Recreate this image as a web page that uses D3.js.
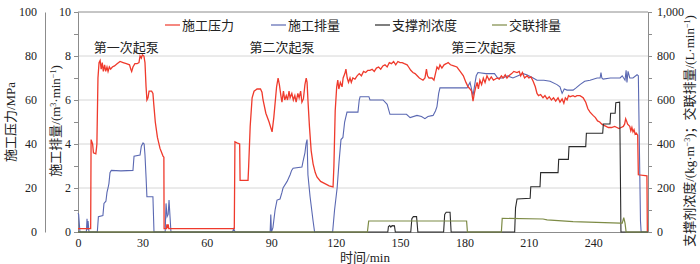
<!DOCTYPE html>
<html><head><meta charset="utf-8">
<script src="https://cdn.jsdelivr.net/npm/d3@7/dist/d3.min.js"></script>
<style>
html,body{margin:0;padding:0;background:#fff;}
svg{display:block;}
</style></head>
<body>
<svg id="chart" width="700" height="264"></svg>
<script>
// ---------- data ----------
const xTicks = [0, 30, 60, 90, 120, 150, 180, 210, 240];
const pressureTicks = [0, 20, 40, 60, 80, 100];
const rateTicks = [0, 2, 4, 6, 8, 10];
const rightTicks = [0, 200, 400, 600, 800, 1000];
const seriesNames = ["施工压力", "施工排量", "支撑剂浓度", "交联排量"];
const stageLabels = ["第一次起泵", "第二次起泵", "第三次起泵"];
const stageTimes = [22.5, 95, 189];

// 施工压力 (MPa) : [time(min), value]
const pressure = [
[0,1.5],[5.9,1.5],[6.1,42],[6.8,40],[7.2,36],[8.3,35.5],[8.6,38],[8.8,40],[9.3,70],[9.8,77],[10.3,78],[10.8,74],[11.3,77],[11.8,73],[12.4,76],[12.9,73],[13.5,75],[14,73],[14.6,75],[15.2,74],[16,75],[17,75.5],[18.2,76.5],[19.6,77.5],[21,77],[22.5,76.5],[24,76],[24.6,74],[25,73],[25.6,75],[26.5,76.5],[27.5,76.5],[28.4,77],[28.9,80],[29.5,79],[30,80.5],[30.7,80],[31.2,77],[31.7,66],[32.1,60],[32.6,61],[33.1,64],[34.3,64],[34.9,63],[35.3,58],[36,50],[37,43],[38.2,38],[39.6,34.5],[40,34],[40.1,1.5],[41.2,1.5],[41.4,3.5],[41.7,1.8],[42,3.5],[42.3,1.5],
[72.8,1.5],[73.1,41],[74,40.5],[75.3,40],[75.5,23.5],[79.2,23.5],[79.5,30],[80.2,48],[81.1,61],[82,64],[83.4,65],[85,65],[85.7,63.5],[86.2,60],[87.5,54],[89,50],[90.4,45.5],[91.2,52],[92.5,66],[93.2,70],[93.8,67],[94.5,62],[95,59],[95.7,64],[96.3,60],[97,62],[97.6,60],[98.3,64],[98.8,61],[99.6,63],[100.3,60],[101,62],[101.6,59],[102.4,63],[103,61],[103.7,64],[104.3,59],[105,60.5],[105.7,67],[106.3,70],[106.7,68],[107.1,60],[107.8,48],[108.6,37],[109.5,31],[110.5,27],[111.3,25],[113,23],[115,22],[117,21],[118.8,20.5],[119.2,30],[119.8,55],[120.5,66],[121,69],[121.5,65],[122.2,68],[123,66],[123.5,70],[124.3,72],[124.8,74],[125.4,70],[126,68],[126.7,70],[127.3,68],[128,70],[129,69.5],[130,71],[131,72],[132,71],[133,73],[134,72.5],[135,73.5],[136,73.5],[137,74],[138,73],[139,74.5],[140,75],[141,74],[142,75.5],[143,76],[144,75],[145,77],[146,76.5],[147,77.5],[148,76],[149,77.5],[150,77],[151,77],[152,76.5],[153.3,76],[154,75],[155,73.5],[156,72.5],[157,72],[158,71],[159,70],[160.7,69],[161.6,70],[162.3,74],[162.8,71],[163.5,70],[164.9,70],[165.8,69],[166.5,72],[167.2,75],[168,74],[168.6,76],[169.5,74.5],[170.5,76],[171.5,76.5],[172.4,77],[173.5,76],[175,75.5],[176.5,75],[178,73],[179.5,71],[180.7,68],[181.7,66],[182.6,65],[183.3,64],[184,59.5],[184.6,63],[185.3,66],[185.9,68],[186.5,65],[187.2,69],[188,67],[188.8,70],[189.6,68],[190.5,71],[191.5,69],[192.5,70.5],[193.5,69],[195.2,70],[196.2,69.5],[197.2,71],[198,70],[199,71.5],[199.8,70],[200.7,71],[202,72],[203,73],[204.5,72.5],[205.5,73],[206.2,71],[207,72.5],[208,70],[209.2,71],[210,70],[211,70.5],[212,68.5],[213,66],[213.8,63],[214.5,62],[215.5,62.5],[216.6,61],[217.5,62],[218.5,60.5],[219.5,61.5],[220.5,60],[221.5,61],[222.5,59.5],[223.6,61],[224.5,59],[225.5,60.5],[226.3,58.5],[227,61],[227.8,60],[228.5,62],[229.2,61.5],[230.6,62],[231.5,61.5],[232.4,62],[233.8,62],[235.3,61],[236.5,59],[237.5,56],[238.5,54.5],[239.9,53],[241,52],[242,50.5],[243,50],[244,49],[245,48.5],[246,48],[247,47.5],[248.5,47.5],[250,48],[251,47.5],[252,47],[253,47.5],[254,48],[254.6,49],[255.1,51.5],[255.5,50.5],[256,49],[257,48],[257.5,46],[258,47.5],[258.5,45.5],[259,46.5],[259.5,44.5],[260,45],[260.7,44],[261,26],[265,25.5],[265.2,0]
];

// 施工排量 (m3/min)
const rate = [
[0,0.85],[0.3,0.8],[0.9,0],[3.9,0],[4.2,0.6],[4.5,0.1],[4.7,0.5],[5.1,0],[9,0],[9.5,0.7],[11.6,0.75],[12.1,1.3],[13,1.4],[13.5,1.8],[14,2],[14.4,2.2],[14.9,2.7],[15.5,2.8],[20,2.78],[25.6,2.8],[26.1,3.45],[28.9,3.5],[29.5,3.9],[30.3,4.05],[30.8,4],[31.2,3.5],[31.7,2.5],[32.1,1.6],[34.9,1.6],[35.4,0],[40.6,0],[41,1.3],[41.5,0.7],[42,0.8],[42.4,1.45],[43.3,0],[72,0],[72.5,0.15],[73.2,0],[89.5,0],[89.8,0.8],[90.1,0],[90.8,0.2],[91.8,1],[92.7,1.45],[94.1,1.5],[95,1.8],[95.5,2],[97.4,2.3],[98.8,2.6],[99.5,2.8],[100.2,2.9],[104.3,2.95],[104.8,3.2],[105.7,3.6],[106.2,4],[106.7,4.2],[107.1,2.6],[108.1,1.6],[109.5,0.5],[110.2,0],[118.6,0],[119.5,1],[120.7,2],[121.6,3.2],[122.5,4.2],[123.4,4.3],[124.2,5],[125.3,5.45],[130.4,5.45],[131,6],[131.4,6.15],[135.5,6.15],[136,6],[142.1,6],[144,5.8],[145.3,5.35],[153,5.35],[154.7,5.2],[157.9,5.3],[160,5.25],[161.6,5.15],[163,5.25],[165.4,5.3],[166.5,5.5],[167.2,5.7],[168,6.3],[168.6,6.55],[175,6.55],[181.2,6.55],[182.6,6.8],[183.3,6.5],[184,6.2],[184.8,6.7],[185.5,7.1],[186.3,7.25],[190,7.2],[194,7.2],[195.5,7],[198,7],[200,7.1],[202.6,7],[205,7.1],[207.3,7.2],[209,7.15],[212,7],[213.8,6.9],[217,6.9],[219.9,6.85],[223.1,6.7],[224.5,6.6],[225.5,6.3],[226.5,6.5],[227.8,6.45],[230.6,6.45],[232,6.55],[233.8,6.7],[236,6.85],[238.5,6.9],[241.8,7],[243.2,7],[243.6,7.25],[244,7],[244.6,6.95],[248,7],[251.1,7],[252.5,7],[253.5,7.1],[254.8,6.9],[255.3,7.35],[255.7,6.8],[256.2,7.3],[257,7],[258.5,7],[260.4,7.15],[261,7.1],[262,0.5],[262.3,0],[265.5,0]
];

// 支撑剂浓度 (kg/m3)
const proppant = [
[0,0],[144.3,0],[144.6,25],[145.2,29],[145.7,22],[146.3,29],[147.4,28],[147.8,0],[155,0],[155.5,60],[156.2,70],[157.7,70],[158.3,0],[170.3,0],[170.8,80],[171.5,90],[173.3,90],[173.8,0],[203.4,0],[203.8,110],[204.5,150],[210.6,153],[210.9,206],[215.2,206],[215.5,270],[223.6,270],[223.9,330],[228.4,330],[228.7,388],[236.5,388],[236.8,449],[244.4,449],[244.7,491],[247.8,491],[248.1,540],[250.2,540],[250.5,588],[252.3,590],[252.6,300],[252.9,0],[265.5,0]
];

// 交联排量 (L/min)
const crosslink = [
[0,0],[134.8,0],[135.4,50],[181,50],[181.4,0],[197.2,0],[197.6,62],[216.6,59],[218.5,55],[230.6,47],[252.5,40],[253.5,40],[254.2,65],[254.8,40],[255.3,0],[265.5,0]
];

// ---------- drawing ----------
const FONT = '"Liberation Serif", "Times New Roman", "Noto Sans CJK SC", serif';
const svg = d3.select("#chart");
const L = 78, R = 648, T = 12, B = 232;
const x = d3.scaleLinear().domain([0, 265.5]).range([L, R]);
const yP = d3.scaleLinear().domain([0, 100]).range([B, T]);
const yQ = d3.scaleLinear().domain([0, 10]).range([B, T]);
const yR = d3.scaleLinear().domain([0, 1000]).range([B, T]);

const axisColor = "#8c8c8c";

// gridlines
svg.append("g").selectAll("line").data(rateTicks.filter(d => d > 0 && d < 10)).join("line")
  .attr("x1", L).attr("x2", R).attr("y1", d => yQ(d)).attr("y2", d => yQ(d))
  .attr("stroke", "#d6d6d6").attr("stroke-width", 1);
// frame top
svg.append("line").attr("x1", L).attr("x2", R).attr("y1", T).attr("y2", T).attr("stroke", axisColor);

function styleAxis(g) {
  g.attr("font-family", FONT).attr("font-size", 12);
  g.selectAll(".domain").attr("stroke", axisColor);
  g.selectAll(".tick line").attr("stroke", axisColor);
  g.selectAll("text").attr("font-size", 12).attr("fill", "#222").attr("font-family", FONT);
}

// pressure axis (far left)
svg.append("g").attr("transform", "translate(45,0)")
  .call(d3.axisLeft(yP).tickValues(pressureTicks).tickSize(0).tickPadding(8).tickSizeOuter(0))
  .call(styleAxis);

// rate axis
const minorQ = [1, 3, 5, 7, 9];
svg.append("g").attr("transform", `translate(${L},0)`)
  .call(d3.axisLeft(yQ).tickValues(minorQ).tickSize(4).tickFormat("").tickSizeOuter(0))
  .call(styleAxis);
svg.append("g").attr("transform", `translate(${L},0)`)
  .call(d3.axisLeft(yQ).tickValues(rateTicks).tickSize(4).tickPadding(3).tickSizeOuter(0))
  .call(styleAxis);

// right axis
const minorR = [100, 300, 500, 700, 900];
svg.append("g").attr("transform", `translate(${R},0)`)
  .call(d3.axisRight(yR).tickValues(minorR).tickSize(4).tickFormat("").tickSizeOuter(0))
  .call(styleAxis);
svg.append("g").attr("transform", `translate(${R},0)`)
  .call(d3.axisRight(yR).tickValues(rightTicks).tickSize(4).tickPadding(5).tickSizeOuter(0))
  .call(styleAxis);

// x axis
svg.append("g").attr("transform", `translate(0,${B})`)
  .call(d3.axisBottom(x).tickValues(xTicks).tickSize(0).tickPadding(6).tickSizeOuter(0))
  .call(styleAxis);

// series
const colors = ["#ef3a2c", "#5a68b2", "#2b2b2b", "#7d8b46"];
const lineGen = (ys) => d3.line().x(d => x(d[0])).y(d => ys(d[1]));
svg.append("path").datum(rate).attr("d", lineGen(yQ)).attr("fill", "none").attr("stroke", colors[1]).attr("stroke-width", 1.1);
svg.append("path").datum(pressure).attr("d", lineGen(yP)).attr("fill", "none").attr("stroke", colors[0]).attr("stroke-width", 1.3);
svg.append("path").datum(proppant).attr("d", lineGen(yR)).attr("fill", "none").attr("stroke", colors[2]).attr("stroke-width", 1.1);
svg.append("path").datum(crosslink).attr("d", lineGen(yR)).attr("fill", "none").attr("stroke", colors[3]).attr("stroke-width", 1.2);

// legend
const legendX = [165, 271, 375, 492];
const lg = svg.append("g");
seriesNames.forEach((n, i) => {
  lg.append("line").attr("x1", legendX[i]).attr("x2", legendX[i] + 15).attr("y1", 25).attr("y2", 25)
    .attr("stroke", colors[i]).attr("stroke-width", 1.2);
  lg.append("text").attr("x", legendX[i] + 17).attr("y", 29.5).attr("font-size", 13)
    .attr("font-family", FONT).attr("fill", "#222").text(n);
});

// stage annotations
stageLabels.forEach((s, i) => {
  svg.append("text").attr("x", x(stageTimes[i])).attr("y", 52).attr("text-anchor", "middle")
    .attr("font-size", 13).attr("font-family", FONT).attr("fill", "#222").text(s);
});

// axis titles
function richText(sel, parts) {
  parts.forEach(p => {
    const t = sel.append("tspan").text(p.t);
    if (p.sup) t.attr("baseline-shift", "super").attr("font-size", 8);
  });
}
function title(tr) {
  return svg.append("text").attr("transform", tr).attr("text-anchor", "middle")
    .attr("font-size", 13).attr("font-family", FONT).attr("fill", "#222");
}
richText(title("translate(15,122) rotate(-90)"), [{t: "施工压力/MPa"}]);
richText(title("translate(60,121) rotate(-90)"), [{t: "施工排量/(m"}, {t: "3", sup: true}, {t: "·min"}, {t: "−1", sup: true}, {t: ")"}]);
richText(title("translate(694,131) rotate(-90)"), [{t: "支撑剂浓度/(kg·m"}, {t: "−3", sup: true}, {t: ")；交联排量/(L·min"}, {t: "−1", sup: true}, {t: ")"}]);
svg.append("text").attr("x", 365).attr("y", 262).attr("text-anchor", "middle").attr("font-size", 13)
  .attr("font-family", FONT).attr("fill", "#222").text("时间/min");
</script>
</body></html>
